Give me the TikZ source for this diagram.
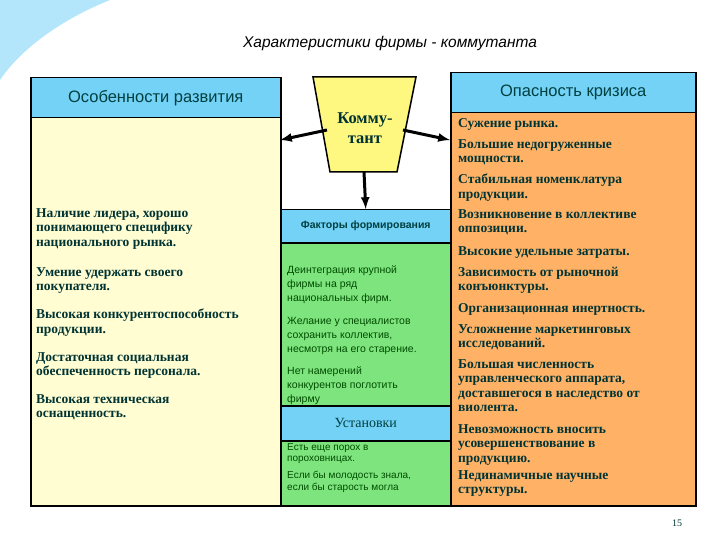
\documentclass[tikz,border=0pt]{standalone}
\usepackage{fontspec}
\setmainfont{Liberation Serif}
\setsansfont{Liberation Sans}
\begin{document}
\begin{tikzpicture}[x=1pt,y=-1pt,
  hdr/.style={draw=black,line width=1.5pt,fill=cyan!55!white},
  bodyY/.style={draw=black,line width=1.5pt,fill=yellow!18!white},
  bodyG/.style={draw=black,line width=1.5pt,fill=green!45!white!90!black},
  bodyO/.style={draw=black,line width=1.5pt,fill=orange!60!white},
  itm/.style={anchor=north west,inner sep=0pt,align=left,font=\bfseries\fontsize{13.5}{14.5}\selectfont,text=teal!40!black},
  gitm/.style={anchor=north west,inner sep=0pt,align=left,font=\sffamily\fontsize{10.5}{14}\selectfont,text=green!30!black},
  arr/.style={-latex,line width=3pt}]
\useasboundingbox (0,0) rectangle (720,540);
\fill[white] (0,0) rectangle (720,540);
\fill[cyan!30!white] (0,0) -- (110,0) .. controls (60,20) and (20,50) .. (0,80) -- cycle;
\node[font=\sffamily\itshape\fontsize{15.5}{17}\selectfont] (title) at (390,43) {Характеристики фирмы - коммутанта};
% left
\node[hdr,minimum width=250,minimum height=40,anchor=north west,inner sep=0,font=\sffamily\fontsize{16.5}{18}\selectfont,text=teal!50!black] (lh) at (30,77) {Особенности развития};
\node[bodyY,minimum width=250,minimum height=388,anchor=north west] (lb) at (30,117) {};
\node[itm] (l1) at (36,208) {Наличие лидера, хорошо\\понимающего специфику\\национального рынка.};
\node[itm] (l2) at (36,267) {Умение удержать своего\\покупателя.};
\node[itm] (l3) at (36,309) {Высокая конкурентоспособность\\продукции.};
\node[itm] (l4) at (36,352) {Достаточная социальная\\обеспеченность персонала.};
\node[itm] (l5) at (36,394) {Высокая техническая\\оснащенность.};
% center
\node[hdr,minimum width=170,minimum height=33,anchor=north west,font=\sffamily\bfseries\fontsize{10.5}{12}\selectfont,text=teal!50!black] (fh) at (280,209) {Факторы формирования};
\node[bodyG,minimum width=170,minimum height=163,anchor=north west] (fb) at (280,242) {};
\node[gitm] (f1) at (287,266) {Деинтеграция крупной\\фирмы на ряд\\национальных фирм.};
\node[gitm] (f2) at (287,317) {Желание у специалистов\\сохранить коллектив,\\несмотря на его старение.};
\node[gitm] (f3) at (287,367) {Нет намерений\\конкурентов поглотить\\фирму};
\node[hdr,minimum width=170,minimum height=35,anchor=north west,font=\fontsize{14}{16}\selectfont,text=teal!50!black] (uh) at (280,405) {Установки};
\node[bodyG,minimum width=170,minimum height=65,anchor=north west] (ub) at (280,440) {};
\node[gitm,font=\sffamily\fontsize{10}{11.5}\selectfont] (u1) at (287,443) {Есть еще порох в\\пороховницах.};
\node[gitm,font=\sffamily\fontsize{10}{11.5}\selectfont] (u2) at (287,471) {Если бы молодость знала,\\если бы старость могла};
% trapezoid
\draw[line width=1.5pt,fill=yellow!50!white] (313,77) -- (416,77) -- (397,172) -- (330,172) -- cycle;
\node[font=\bfseries\fontsize{16.5}{20}\selectfont,text=teal!40!black,align=center] (k) at (365,128) {Комму-\\тант};
\coordinate (kb) at (364,172);
\coordinate (kl) at (327,130);
\coordinate (kr) at (403,130);
\coordinate (la) at (280,140);
\coordinate (ra) at (450,140);
% right
\node[hdr,minimum width=245,minimum height=40,anchor=north west,font=\sffamily\fontsize{16.5}{18}\selectfont,text=teal!50!black] (rh) at (450,72) {Опасность кризиса};
\node[bodyO,minimum width=245,minimum height=393,anchor=north west] (rb) at (450,112) {};
\node[itm] (r1) at (458,118) {Сужение рынка.};
\node[itm] (r2) at (458,139) {Большие недогруженные\\мощности.};
\node[itm] (r3) at (458,174) {Стабильная номенклатура\\продукции.};
\node[itm] (r4) at (458,209) {Возникновение в коллективе\\оппозиции.};
\node[itm] (r5) at (458,246) {Высокие удельные затраты.};
\node[itm] (r6) at (458,267) {Зависимость от рыночной\\конъюнктуры.};
\node[itm] (r7) at (458,303) {Организационная инертность.};
\node[itm] (r8) at (458,324) {Усложнение маркетинговых\\исследований.};
\node[itm] (r9) at (458,359) {Большая численность\\управленческого аппарата,\\доставшегося в наследство от\\виолента.};
\node[itm] (r10) at (458,424) {Невозможность вносить\\усовершенствование в\\продукцию.};
\node[itm] (r11) at (458,470) {Нединамичные научные\\структуры.};
\node[font=\fontsize{10}{11}\selectfont,text=teal!40!black] (pg) at (677,523) {15};
% arrows
\draw[arr] (kb) -- (fh.north);
\draw[arr] (kl) -- (la);
\draw[arr] (kr) -- (ra);
\end{tikzpicture}
\end{document}
